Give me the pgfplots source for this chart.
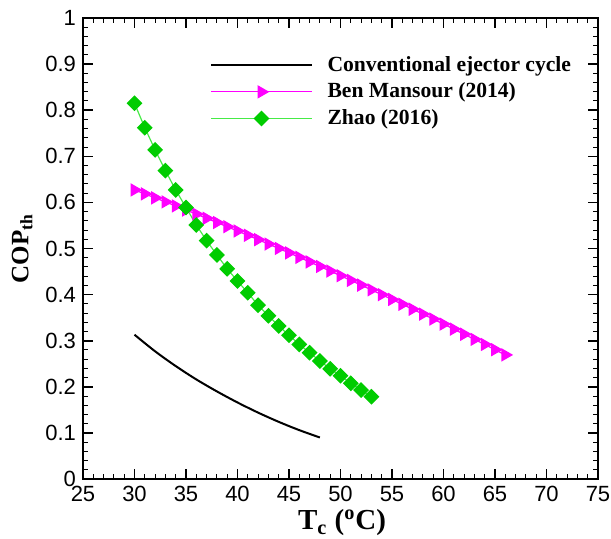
\documentclass[border=0pt]{standalone}
\usepackage{fontspec}
\setmainfont{Liberation Serif}
\newfontfamily\arial{Liberation Sans}
\usepackage{pgfplots}
\pgfplotsset{compat=1.18}
\definecolor{zgreen}{RGB}{0,204,0}
\definecolor{zline}{RGB}{70,235,70}
\definecolor{bmag}{RGB}{255,0,255}
\begin{document}
\begin{tikzpicture}
\useasboundingbox (-41.5pt,-29.5pt) rectangle (264pt,239.5pt);
\begin{axis}[
  at={(0pt,0pt)}, anchor=south west,
  scale only axis,
  width=257.5pt, height=230.5pt,
  xmin=25, xmax=75, ymin=0, ymax=1,
  xtick={25,30,...,75},
  ytick={0,0.1,...,1},
  yticklabels={0,0.1,0.2,0.3,0.4,0.5,0.6,0.7,0.8,0.9,1},
  minor x tick num=4,
  minor y tick num=4,
  tick align=inside,
  xtick pos=both, ytick pos=both,
  major tick length=5pt, minor tick length=2.7pt,
  axis line style={line width=1pt},
  every tick/.style={black, line width=0.8pt},
  minor tick style={line width=0.5pt},
  /pgf/number format/assume math mode=true,
  tick label style={font=\arial\fontsize{11}{12}\selectfont},
  xlabel={\textbf{T\textsubscript{c} (\textsuperscript{o}C)}},
  ylabel={\textbf{COP\textsubscript{th}}},
  every axis x label/.style={at={(axis description cs:0.503,-0.1106)}, anchor=base, font=\fontsize{14.5}{16}\selectfont},
  every axis y label/.style={at={(axis description cs:-0.106,0.5)}, anchor=base, rotate=90, font=\fontsize{12.5}{14}\selectfont},
  legend cell align=left,
  legend style={draw=none, fill=none, inner sep=0pt, at={(0.2466,0.9265)}, anchor=north west,
    font=\bfseries\fontsize{10.8}{12}\selectfont, row sep=0.3pt,
    /tikz/every odd column/.append style={column sep=5.5pt}},
  legend image code/.code={\draw[mark repeat=2,mark phase=2,#1] plot coordinates {(0cm,0cm) (0.88cm,0cm) (1.76cm,0cm)};},
]
\addplot[black, line width=1pt, smooth, no marks] coordinates {
(30,0.313) (32,0.277) (34,0.245) (36,0.216) (38,0.190) (40,0.166) (42,0.144) (44,0.124) (46,0.106) (48,0.090)
};
\addlegendentry{Conventional ejector cycle}
\addplot[bmag, line width=0.6pt, mark=triangle*, mark size=3.3pt, mark options={rotate=-90, fill=bmag, draw=bmag}] coordinates {
(30,0.6270) (31,0.6185) (32,0.6098) (33,0.6011) (34,0.5924) (35,0.5835) (36,0.5746) (37,0.5655) (38,0.5564) (39,0.5473)
(40,0.5380) (41,0.5287) (42,0.5192) (43,0.5097) (44,0.5002) (45,0.4905) (46,0.4808) (47,0.4709) (48,0.4610) (49,0.4511)
(50,0.4410) (51,0.4309) (52,0.4206) (53,0.4103) (54,0.3999) (55,0.3895) (56,0.3790) (57,0.3683) (58,0.3576) (59,0.3469)
(60,0.3360) (61,0.3251) (62,0.3140) (63,0.3029) (64,0.2918) (65,0.2805) (66,0.2692)
};
\addlegendentry{Ben Mansour (2014)}
\addplot[zline, line width=0.6pt, mark=square*, mark size=2.5pt, mark options={rotate=45, fill=zgreen, draw=zgreen}] coordinates {
(30,0.815) (31,0.762) (32,0.714) (33,0.669) (34,0.627) (35,0.589) (36,0.551) (37,0.517) (38,0.486) (39,0.456)
(40,0.4295) (41,0.404) (42,0.377) (43,0.354) (44,0.332) (45,0.312) (46,0.292) (47,0.274) (48,0.256) (49,0.239)
(50,0.224) (51,0.2075) (52,0.193) (53,0.1785)
};
\addlegendentry{Zhao (2016)}
\end{axis}
\end{tikzpicture}
\end{document}
